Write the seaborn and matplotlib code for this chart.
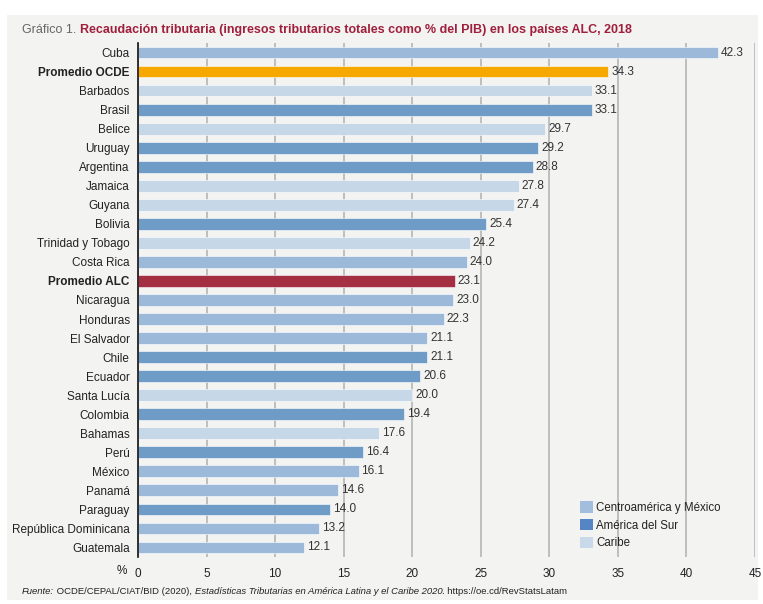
import numpy as np
import pandas as pd
import matplotlib
matplotlib.use("Agg")
import matplotlib.pyplot as plt
import seaborn as sns
from matplotlib.patches import Patch, Rectangle

paises = ["Cuba", "Promedio OCDE", "Barbados", "Brasil", "Belice", "Uruguay", "Argentina",
          "Jamaica", "Guyana", "Bolivia", "Trinidad y Tobago", "Costa Rica", "Promedio ALC",
          "Nicaragua", "Honduras", "El Salvador", "Chile", "Ecuador", "Santa Lucía",
          "Colombia", "Bahamas", "Perú", "México", "Panamá", "Paraguay",
          "República Dominicana", "Guatemala"]
valores = [42.3, 34.3, 33.1, 33.1, 29.7, 29.2, 28.8, 27.8, 27.4, 25.4, 24.2, 24.0, 23.1,
           23.0, 22.3, 21.1, 21.1, 20.6, 20.0, 19.4, 17.6, 16.4, 16.1, 14.6, 14.0, 13.2, 12.1]
grupos = ["Centro", "OCDE", "Caribe", "Sur", "Caribe", "Sur", "Sur",
          "Caribe", "Caribe", "Sur", "Caribe", "Centro", "ALC",
          "Centro", "Centro", "Centro", "Sur", "Sur", "Caribe",
          "Sur", "Caribe", "Sur", "Centro", "Centro", "Sur",
          "Centro", "Centro"]

colores = {"Centro": "#9db9d9", "Sur": "#6f9cc7", "Caribe": "#c6d7e8",
           "OCDE": "#f7a800", "ALC": "#a52f42"}
leyenda = [("Centroamérica y México", "#a3bedc"), ("América del Sur", "#5585c2"),
           ("Caribe", "#c9d9ea")]

df = pd.DataFrame({"pais": paises, "valor": valores, "grupo": grupos})

sns.set_style("white")
plt.rcParams["font.family"] = ["Liberation Sans", "DejaVu Sans"]

bg = "#f3f3f1"
fig = plt.figure(figsize=(7.63, 6.04), dpi=100)
fig.patch.set_facecolor("white")
fig.patches.append(Rectangle((7 / 763, 4 / 604), 751 / 763, 585 / 604,
                             transform=fig.transFigure, facecolor=bg,
                             edgecolor="none", zorder=-10))

ax = fig.add_axes([138 / 763, 1 - 557 / 604, 617 / 763, 514 / 604])
ax.set_facecolor(bg)

sns.barplot(data=df, x="valor", y="pais", hue="grupo", palette=colores,
            dodge=False, legend=False, width=0.62, saturation=1, ax=ax, zorder=3,
            edgecolor="white", linewidth=0.4)

for i, v in enumerate(valores):
    ax.text(v + 0.2, i, f"{v:.1f}", va="center", ha="left", fontsize=8.5, color="#333333")

ax.set_xlim(0, 45)
ax.set_xticks(np.arange(0, 46, 5))
ax.grid(axis="x", color="#b5b5b5", linewidth=1.2, zorder=0)
ax.set_axisbelow(True)
for s in ["top", "right", "bottom"]:
    ax.spines[s].set_visible(False)
ax.spines["left"].set_color("#111111")
ax.spines["left"].set_linewidth(1.2)
ax.spines["left"].set_zorder(5)
ax.tick_params(axis="both", length=0, labelsize=8.5, colors="#222222")
ax.tick_params(axis="x", pad=8)
ax.tick_params(axis="y", pad=6)
ax.set_xlabel("")
ax.set_ylabel("")
for lab in ax.get_yticklabels():
    if lab.get_text().startswith("Promedio"):
        lab.set_fontweight("bold")

fig.text(122 / 763, 1 - 571 / 604, "%", ha="center", va="center", fontsize=8.5, color="#222222")

handles = [Patch(facecolor=c, edgecolor="none", label=l) for l, c in leyenda]
ax.legend(handles=handles, loc="lower left", bbox_to_anchor=(0.7, -0.005), frameon=False,
          fontsize=8.3, handlelength=1.1, handleheight=1.1, handletextpad=0.3,
          labelspacing=0.45, labelcolor="#222222")

# titulo en dos partes
t1 = fig.text(22 / 763, 1 - 30 / 604, "Gráfico 1. ", ha="left", va="center",
              fontsize=9, color="#666666")
ax.annotate("Recaudación tributaria (ingresos tributarios totales como % del PIB) en los países ALC, 2018",
            xy=(1, 0), xycoords=t1, va="bottom", ha="left", fontsize=9,
            fontweight="bold", color="#a01f3c")

# fuente
partes = [("Fuente:", "italic"), (" OCDE/CEPAL/CIAT/BID (2020), ", "normal"),
          ("Estadísticas Tributarias en América Latina y el Caribe 2020", "italic"),
          (". https://oe.cd/RevStatsLatam", "normal")]
prev = fig.text(22 / 763, 1 - 591 / 604, partes[0][0], ha="left", va="center",
                fontsize=6.8, style=partes[0][1], color="#222222")
for txt, st in partes[1:]:
    prev = ax.annotate(txt, xy=(1, 0), xycoords=prev, va="bottom", ha="left",
                       fontsize=6.8, style=st, color="#222222")

fig.savefig("out.png", dpi=100, facecolor=fig.get_facecolor())
